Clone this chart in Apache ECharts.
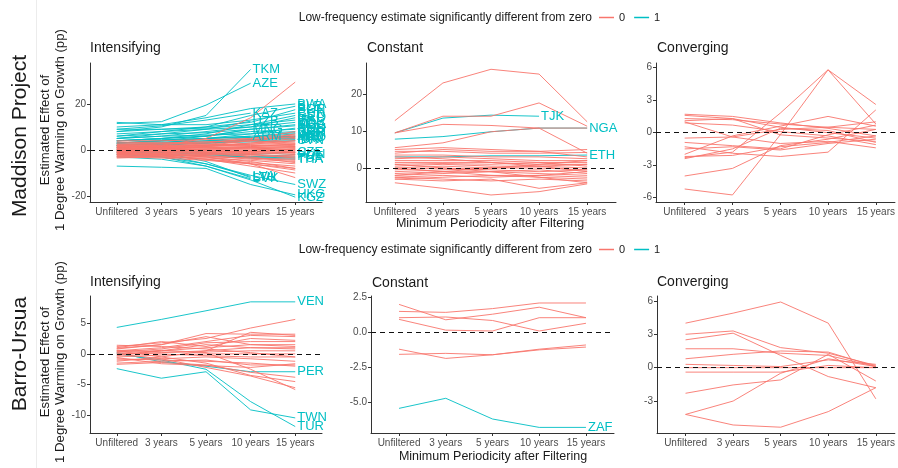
<!DOCTYPE html>
<html><head><meta charset="utf-8">
<script src="https://cdn.jsdelivr.net/npm/echarts@6/dist/echarts.min.js"></script>
<style>html,body{margin:0;padding:0;background:#fff}#c{width:898px;height:468px}</style>
</head><body><div id="c"></div>
<script>
const categories = ['Unfiltered','3 years','5 years','10 years','15 years'];

// Maddison Project - Intensifying
const mpIntTealLabels = ['TKM','AZE','KAZ','UZB','MNG','ARM','LVA','SVK','LTU','BWA','BLR','BGR','CHN','EST','GEO','IRL','KOR','MDA','POL','ROU','RUS','SGP','UKR','VNM','ALB','MKD','HRV','SVN','CZE','HUN','PRT','THA','TUR','SWZ','HKG','KGZ','IND','IDN'];
const mpIntTeal = [
 [8,10,15,35,null],[11.5,12.3,19.5,29,null],[9,10.5,13,16,null],[5,7,9,12.5,null],[4,5,6,9,null],[3,4,5,6,null],
 [0,-2,-6,-11.5,null],[-1,-3,-7,-12.5,null],[1,-1,-5,-12,null],
 [10,11,14,18,20],[6,8,10,15,19],[8,9,10,12,17.5],[12,11,11,13,16],[4,5,7,11,15],[7,8,9,10,14],[9,9,9.5,11,13],
 [5,6,8,10,12],[3,4,6,9,11],[6,7,7.5,9,10.5],[2,3,5,7,9.5],[4,5,6,8,9],[5,6,6.5,7,8],[3,4,5,6,7.5],[2,3,4,5.5,7],
 [4,4.5,5,5.5,6],[1,2,3,4.5,5.5],[3,3.5,4,4.5,5],[2,2.5,3,3.5,4],[-1,-1,-1.5,-2,-1],[-2,-2,-2.5,-3,-2],[0,-1,-2,-3,-3],
 [1,0,-1.5,-3.5,-4],[2,1,-1,-3,-3.5],[-2,-3,-6,-11,-15],[-7,-7.5,-8,-15,-19.5],[-3,-4,-7,-13,-20.5],[3,3,3.5,4.5,6],[2,2.5,3,4,4.5]
];
const mpIntRed = [
 [0,2,5,14,29.5],[2,2.5,3,5,8],[1.5,2,2.5,4,6],[1,1.5,2,3,5],[2.5,2,2,2.5,4],[0.5,1,1.5,2.5,3],[1,1,1,1.5,2],
 [0,0.5,1,1.5,2.5],[-0.5,0,0.5,1,1.5],[0,0,0,0.5,1],[-1,-0.5,0,0,0.5],[0.5,0,-0.5,-0.5,0],[-1,-1,-1,-1.5,-1],
 [-0.5,-1,-1.5,-2,-2.5],[-1.5,-1.5,-2,-2.5,-3],[-2,-2,-2.5,-3.5,-4],[-1,-1.5,-2.5,-4,-5],[-2.5,-3,-3.5,-4.5,-6],
 [-2,-2.5,-4,-5.5,-7],[-3,-3.5,-4.5,-6,-8],[-1.5,-2.5,-4,-7,-10],[3,3,3.5,4,3],[2,2,1.5,1,0],[1.5,1,0,-1,-2],
 [-3,-2.5,-2,-1.5,-1],[-2.5,-2,-1.5,-1,0.5],[0,-0.5,-1,-3,-5.5],[1,0.5,0,-2,-3.5],[-1.5,-2,-3,-5,-8],
 [2.5,3,3.5,4.5,5.5],[0.5,0.5,0.5,1,1],[-0.5,-0.5,-0.5,-0.5,-0.5],[1.5,1.5,2,2,2.5],[-2,-1.5,-1,-0.5,-1.5],
 [3.5,3,2.5,2,1.5],[-3.5,-3,-3,-3.5,-4.5],[0,1,2,4,7],[-1,-2,-3,-6,-12],[2,1.5,1,0.5,-1],[-0.5,0.5,1.5,3,4],
 [4,4,4.5,5,6.5],[-3,-3,-4,-6,-8.7]
];

// Maddison Project - Constant
const mpConTealLabels = ['TJK','NGA','ETH'];
const mpConTeal = [[9.5,13.5,14.3,14,null],[7.8,8.5,9.8,10.8,10.8],[3,3,3.3,3.3,3.5]];
const mpConRed = [
 [12.8,23,26.7,25.4,12.5],[9.5,14,14,17.6,11.3],[9.5,11.8,11.5,10.8,4],[5.5,6.8,9.8,10.8,10.8],
 [5,5.5,5,4.5,5],[4.5,4.5,4,4,4.2],[4,5,4.5,4.5,3],[3.5,3.5,3,3,2.5],[2.5,3,2.5,2,2],[2,2,2,1.5,1.5],
 [1.5,1.5,1.5,1,1],[1,1.2,1,1.5,0.5],[0.5,1,0.5,0.5,1],[0,0.5,0,0,-0.5],[-0.5,0,-0.5,-1,-0.5],
 [-1,-0.5,0,0.5,-1],[-1.5,-1,-1,-0.5,-1.5],[-2,-1.5,-1,-1.5,-2],[-2.5,-2,-2.5,-2,-2.5],[-3,-2.5,-2,-2.5,-3],
 [-2.5,-3,-3.5,-3,-3.5],[-3,-3.5,-3,-5.5,-4],[-4,-5.5,-7.3,-6.4,-4.3],[1,0,-1,-2.5,-4],[-2,-1,0,1,2],
 [3,2.5,1.5,0.5,0],[0,-1,-2,-2,-1]
];

// Maddison Project - Converging
const mpConvRed = [
 [-5.2,-5.75,-0.2,5.8,0.8],[-2.3,-1.8,1.8,5.8,2.6],[-4,-3.3,-1.2,-0.6,0.3],[1.7,1.5,0.9,0.4,-0.3],
 [1.6,1.3,0.5,0,-0.5],[1.3,1.2,0.8,0.5,0.3],[1.1,1.3,-0.2,-0.5,-0.8],[1,-0.4,0.3,0.5,1],
 [-0.5,-0.4,-1,-0.8,-1.4],[-0.9,-1.2,-1.5,-0.2,0.7],[-1.3,-1.9,-2.2,-1.8,2.1],[-1.5,-1.3,-1.6,-1,-0.6],
 [-2,-0.3,0.6,1.5,0.6],[-2.2,-2.1,-1.3,-0.9,-0.3],[-2.4,-1.5,0.4,0.2,-0.9],[0.9,0.7,0.1,-0.3,-1.1]
];

// Barro-Ursua - Intensifying
const buIntTealLabels = ['VEN','PER','TWN','TUR'];
const buIntTeal = [[4.3,5.6,7.0,8.45,8.45],[0.2,-1.3,-2.0,-2.9,-2.9],[-2.4,-3.95,-2.9,-9.1,-10.4],[0,-1.0,-2.5,-7.75,-11.8]];
const buIntRed = [
 [1.2,1.8,2.5,4.2,5.6],[0.8,1.5,3.3,3.2,3.2],[0.5,1,2,3,2.8],[1,2,1.2,2.5,2.2],[0.3,0.8,1.8,2,2],
 [-0.3,0.5,1,1.5,1.5],[0,0.2,0.5,1,1],[0.6,0.3,0.3,0.5,0.5],[-0.5,-0.2,0,0,0],[0.2,0,-0.3,-0.5,-0.5],
 [-1,-0.8,-0.5,-0.8,-1.2],[-0.8,-1,-1.2,-1.5,-2],[-1.5,-1.2,-1,-1.8,-1.8],[-1.7,-1.4,-1.8,-3,-3.8],
 [0.5,-0.5,-1.5,-3.5,-4.5],[0,-0.8,-2.2,-3.6,-5.5],[-0.2,0.6,0.2,-2.5,-5.8],[1.4,1.2,0.8,0.2,-0.5],
 [-0.6,-1.6,-1.9,-2.2,-1.6],[0.9,1.5,2.8,1.5,1.2],[-1.2,-0.5,0.5,3.5,3],[0.4,0.5,1.5,1,0.8]
];

// Barro-Ursua - Constant
const buConTealLabels = ['ZAF'];
const buConTeal = [[-5.43,-4.71,-6.19,-6.79,-6.79]];
const buConRed = [
 [1.5,1.43,1.7,2.1,2.1],[2.0,0.9,1.3,1.8,1.05],[1.05,1.1,0.85,0.1,0.65],[0.93,0.16,0.1,1.05,1.05],
 [-1.2,-1.86,-1.6,-1.2,-0.9],[-1.57,-1.5,-1.6,-1.25,-1.05]
];

// Barro-Ursua - Converging
const buConvRed = [
 [4.0,4.9,5.9,4.0,-2.8],[3.0,3.3,1.8,1.3,0.2],[2.5,3.1,1.1,-0.8,-1.8],[1.7,1.7,1.3,1.1,0.1],
 [0.8,1.2,1.5,1.4,0.1],[0,0,0,0,0],[-0.4,-0.4,-0.4,0.2,0],[-2.3,-1.55,-1.1,1.2,-1.2],
 [-4.2,-3.0,-0.5,0.8,0.1],[-4.2,-5.15,-5.35,-3.95,-1.8],[0.3,0.2,0.1,0.7,0.3]
];

// Tick labels
const yTicks = [[-20,0,20],[0,10,20],[-6,-3,0,3,6],[-10,-5,0,5],[-5,-2.5,0,2.5],[-3,0,3,6]];
const xTicks = [0,1,2,3,4];

const FONT = '"Liberation Sans", Arial, Helvetica, sans-serif';
const RED = '#F8766D', TEAL = '#00BFC4', AX = '#333333', TXT = '#4D4D4D';

const grids = [
  {left:90, top:63, width:232, height:139},
  {left:366, top:63, width:250, height:139},
  {left:656, top:63, width:242, height:139},
  {left:90, top:296, width:232, height:137},
  {left:371, top:296, width:243, height:137},
  {left:657, top:296, width:241, height:137}
];
const yRange = [[-22.6,37.8],[-9.2,28.4],[-6.4,6.43],[-12.85,9.4],[-7.19,2.6],[-5.87,6.44]];
const xMax = [4.6,4.6,4.4,4.6,4.6,4.4];

const xAxes = grids.map((g,i)=>({
  gridIndex:i, type:'value', min:-0.6, max:xMax[i],
  axisLine:{show:true, onZero:false, lineStyle:{color:AX, width:1}},
  axisTick:{show:true, customValues:xTicks, length:3, lineStyle:{color:AX}},
  axisLabel:{customValues:xTicks, formatter:v=>categories[v], color:TXT, fontSize:10, fontFamily:FONT, margin:5},
  splitLine:{show:false}
}));
const yAxes = grids.map((g,i)=>({
  gridIndex:i, type:'value', min:yRange[i][0], max:yRange[i][1],
  axisLine:{show:true, onZero:false, lineStyle:{color:AX, width:1}},
  axisTick:{show:true, customValues:yTicks[i], length:3, lineStyle:{color:AX}},
  axisLabel:{customValues:yTicks[i], formatter:v=> i===4 ? v.toFixed(1) : String(v), color:TXT, fontSize:10, fontFamily:FONT, margin:4},
  splitLine:{show:false}
}));

const series = [];
function mkLine(gi,row,color,name,label){
  const data=[]; row.forEach((v,i)=>{ if(v!==null) data.push([i,v]); });
  const s={type:'line', name, xAxisIndex:gi, yAxisIndex:gi, data, symbol:'none', silent:true,
    lineStyle:{color, width:1, opacity:0.9}, itemStyle:{color}, emphasis:{disabled:true}};
  if(label) s.endLabel={show:true, formatter:label, color:TEAL, fontSize:13, fontFamily:FONT, distance:2};
  return s;
}
function addPanel(gi, red, teal, labels){
  (teal||[]).forEach((r,k)=>series.push(mkLine(gi,r,TEAL,'1',labels[k])));
  red.forEach(r=>series.push(mkLine(gi,r,RED,'0',null)));
  series[series.length-1].markLine = {silent:true, symbol:'none', animation:false, label:{show:false},
    lineStyle:{type:[5,4], color:'#111', width:1.2}, data:[{yAxis:0}]};
}
addPanel(0, mpIntRed, mpIntTeal, mpIntTealLabels);
addPanel(1, mpConRed, mpConTeal, mpConTealLabels);
addPanel(2, mpConvRed, null, null);
addPanel(3, buIntRed, buIntTeal, buIntTealLabels);
addPanel(4, buConRed, buConTeal, buConTealLabels);
addPanel(5, buConvRed, null, null);

function txt(text,x,y,size,opts){
  return Object.assign({type:'text', x, y, silent:true, style:Object.assign({text, fontSize:size, fontFamily:FONT, fill:'#1a1a1a', align:'left', verticalAlign:'middle'}, (opts&&opts.style)||{})}, (opts&&opts.el)||{});
}
const legendTitle = 'Low-frequency estimate significantly different from zero';
const yTitle = 'Estimated Effect of\n1 Degree Warming on Growth (pp)';
const graphic = [
  {type:'line', shape:{x1:36.5,y1:0,x2:36.5,y2:468}, style:{stroke:'#ececec', lineWidth:1}, silent:true},
  txt(legendTitle,592,18,12,{style:{align:'right'}}),
  txt(legendTitle,592,250,12,{style:{align:'right'}}),
  txt('Intensifying',90,48,14), txt('Constant',367,48,14), txt('Converging',657,48,14),
  txt('Intensifying',90,282,14), txt('Constant',372,283,14), txt('Converging',657,282,14),
  txt('Maddison Project',20,136,21,{style:{align:'center'}, el:{rotation:Math.PI/2}}),
  txt('Barro-Ursua',20,354,21,{style:{align:'center'}, el:{rotation:Math.PI/2}}),
  txt(yTitle,53,130,13.2,{style:{align:'center', lineHeight:14.5}, el:{rotation:Math.PI/2}}),
  txt(yTitle,53,362,13.2,{style:{align:'center', lineHeight:14.5}, el:{rotation:Math.PI/2}}),
  txt('Minimum Periodicity after Filtering',490,224,12.5,{style:{align:'center'}}),
  txt('Minimum Periodicity after Filtering',493,457,12.5,{style:{align:'center'}})
];

const legendBase = {selectedMode:false, icon:'rect', itemWidth:15, itemHeight:1.5, itemGap:9,
  textStyle:{fontSize:11, color:'#1a1a1a', fontFamily:FONT}, data:['0','1'], padding:0};
const chart = echarts.init(document.getElementById('c'), null, {renderer:'canvas'});
chart.setOption({
  animation:false,
  backgroundColor:'#fff',
  legend:[Object.assign({left:599, top:12}, legendBase), Object.assign({left:599, top:244}, legendBase)],
  grid:grids,
  xAxis:xAxes,
  yAxis:yAxes,
  series,
  graphic
});
</script>
</body></html>
